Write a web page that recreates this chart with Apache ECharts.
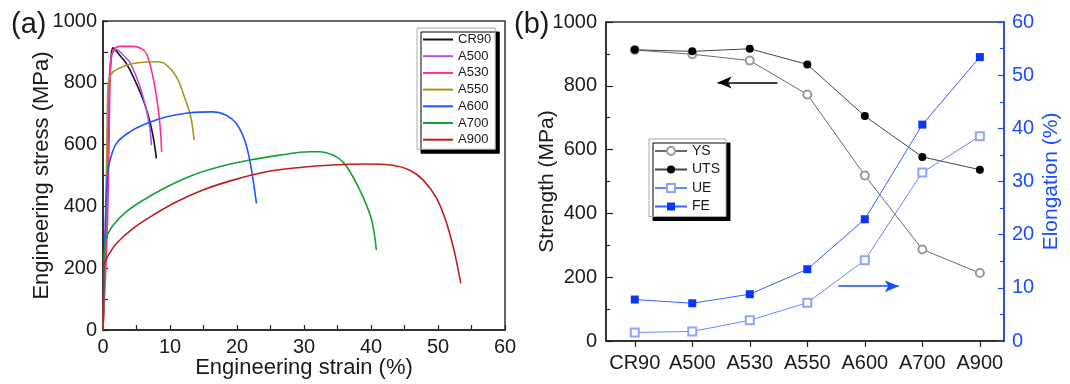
<!DOCTYPE html>
<html>
<head>
<meta charset="utf-8">
<script src="https://cdn.jsdelivr.net/npm/echarts@6/dist/echarts.min.js"></script>
<style>
  html, body { margin: 0; padding: 0; background: #fff; }
  #chart { width: 1070px; height: 384px; }
</style>
</head>
<body>
<div id="chart"></div>
<script>
// (a) engineering stress-strain curves: [strain %, stress MPa]
const cr90 = [[0, 0], [0.5, 380], [0.9, 760], [1.2, 880], [1.5, 913], [2.5, 889], [3.5, 862], [5.0, 797], [6.2, 733], [7.07, 668], [7.62, 609], [7.97, 555]]
const a500 = [[0, 0], [0.5, 400], [0.9, 800], [1.3, 890], [2.0, 908], [3.0, 890], [3.98, 867], [5.37, 797], [6.37, 722], [6.97, 657], [7.22, 598]]
const a530 = [[0, 0], [0.6, 300], [0.9, 600], [1.05, 800], [1.3, 890], [1.8, 912], [2.5, 918], [4.5, 918], [5.7, 911], [6.5, 894], [7.46, 819], [8.2, 722], [8.57, 647], [8.76, 576]]
const a550 = [[0, 0], [0.4, 350], [0.6, 650], [0.75, 790], [1.0, 818], [1.49, 835], [2.99, 853], [4.98, 864], [7.97, 868], [9.21, 862], [10.95, 819], [12.3, 745], [13.1, 690], [13.6, 614]]
const a600 = [[0, 0], [0.3, 300], [0.5, 450], [0.7, 510], [1.0, 545], [2.0, 604], [4.0, 641], [6.5, 668], [9.5, 690], [12.9, 703], [16.4, 706], [18.4, 695], [19.9, 668], [21.15, 614], [21.9, 550], [22.4, 485], [22.9, 410]]
const a700 = [[0, 0], [0.15, 200], [0.3, 280], [0.6, 305], [1.5, 339], [3.5, 383], [6.0, 420], [9.5, 463], [13.4, 501], [17.4, 528], [21.9, 550], [26.4, 566], [30.8, 577], [32.3, 577], [34.3, 566], [35.8, 544], [37.3, 496], [38.8, 431], [40.1, 356], [40.8, 259]]
const a900 = [[0, 0], [0.1, 205], [0.4, 225], [0.75, 240], [2.0, 280], [4.5, 329], [7.5, 372], [11.0, 415], [14.9, 453], [19.4, 485], [24.4, 512], [29.4, 526], [34.3, 534], [39.3, 537], [43.3, 533], [45.8, 517], [47.8, 485], [49.8, 426], [51.3, 345], [52.5, 248], [53.4, 151]]

// (b) strength and elongation per condition
const categories = ['CR90', 'A500', 'A530', 'A550', 'A600', 'A700', 'A900']
const ys = [912, 899, 879, 773, 519, 287, 213]
const uts = [913, 908, 916, 867, 705, 577, 537]
const ue = [1.6, 1.8, 3.9, 7.2, 15.2, 31.7, 38.5]
const fe = [7.8, 7.1, 8.8, 13.5, 22.9, 40.7, 53.4]

// arrows (tail, head) in data coordinates
const strengthArrow = [[2.48, 810], [1.44, 810]]
const elongArrow = [[3.54, 10.3], [4.59, 10.3]]

const font = 'Liberation Sans, Arial, sans-serif'
const ink = '#1a1a1a'
const blue = '#1a4dff'
const catIdx = categories.map((c, i) => i)
const plain = (v) => String(v)

const myChart = echarts.init(document.getElementById('chart'), null, { renderer: 'canvas' })

const curve = (name, data, color) => ({
  name,
  type: 'line',
  xAxisIndex: 0,
  yAxisIndex: 0,
  data,
  symbol: 'none',
  smooth: 0.35,
  lineStyle: { color, width: 1.6 },
  itemStyle: { color },
  z: 3,
})

const option = {
  animation: false,
  backgroundColor: '#fff',
  textStyle: { fontFamily: font },
  grid: [
    { left: 103, top: 21, width: 402, height: 309, show: true, borderColor: '#333', borderWidth: 1.5 },
    { left: 606, top: 22, width: 398, height: 319, show: true, borderColor: '#333', borderWidth: 1.5 },
  ],
  legend: [
    {
      data: ['CR90', 'A500', 'A530', 'A550', 'A600', 'A700', 'A900'],
      orient: 'vertical',
      left: 417,
      top: 28,
      padding: [5, 4, 3, 6],
      icon: 'rect',
      itemWidth: 30,
      itemHeight: 2,
      itemGap: 3.7,
      itemTextGap: 4,
      backgroundColor: '#fff',
      borderColor: '#aaa',
      borderWidth: 1,
      shadowColor: '#000',
      shadowOffsetX: 4,
      shadowOffsetY: 4,
      shadowBlur: 0,
      textStyle: { fontSize: 13, lineHeight: 13, color: ink, fontFamily: font },
    },
    {
      data: ['YS', 'UTS', 'UE', 'FE'],
      orient: 'vertical',
      left: 649,
      top: 139,
      padding: [5, 6, 3, 5],
      itemWidth: 32,
      itemHeight: 10,
      itemGap: 4.5,
      itemTextGap: 5,
      backgroundColor: '#fff',
      borderColor: '#aaa',
      borderWidth: 1,
      shadowColor: '#000',
      shadowOffsetX: 4,
      shadowOffsetY: 4,
      shadowBlur: 0,
      textStyle: { fontSize: 14, lineHeight: 14, color: ink, fontFamily: font },
    },
  ],
  graphic: [
    { type: 'text', left: 11, top: 10, style: { text: '(a)', font: '29px Liberation Sans, Arial, sans-serif', fill: ink } },
    { type: 'text', left: 514, top: 10, style: { text: '(b)', font: '29px Liberation Sans, Arial, sans-serif', fill: ink } },
  ],
  xAxis: [
    {
      gridIndex: 0,
      type: 'value',
      min: 0,
      max: 60,
      interval: 10,
      name: 'Engineering strain (%)',
      nameLocation: 'middle',
      nameGap: 27,
      nameMoveOverlap: false,
      nameTextStyle: { fontSize: 22, color: ink, fontFamily: font },
      axisLine: { onZero: false, lineStyle: { color: '#222', width: 1.5 } },
      axisTick: { inside: true, length: 5, lineStyle: { color: '#222', width: 1.2 } },
      minorTick: { show: true, splitNumber: 2, length: 5, lineStyle: { color: '#222', width: 1.2 } },
      splitLine: { show: false },
      axisLabel: { fontSize: 20, color: ink, margin: 7, fontFamily: font, formatter: plain },
    },
    {
      gridIndex: 1,
      type: 'value',
      min: -0.5,
      max: 6.42,
      axisLine: { onZero: false, lineStyle: { color: '#222', width: 1.5 } },
      axisTick: { customValues: catIdx, length: 6, lineStyle: { color: '#222', width: 1.2 } },
      splitLine: { show: false },
      axisLabel: {
        customValues: catIdx,
        formatter: (v) => categories[Math.round(v)],
        fontSize: 20,
        color: ink,
        margin: 12,
        fontFamily: font,
      },
    },
  ],
  yAxis: [
    {
      gridIndex: 0,
      type: 'value',
      min: 0,
      max: 1000,
      interval: 200,
      name: 'Engineering stress (MPa)',
      nameLocation: 'middle',
      nameGap: 50,
      nameMoveOverlap: false,
      nameTextStyle: { fontSize: 22, color: ink, fontFamily: font },
      axisLine: { show: true, onZero: false, lineStyle: { color: '#222', width: 1.5 } },
      axisTick: { inside: true, length: 5, lineStyle: { color: '#222', width: 1.2 } },
      minorTick: { show: true, splitNumber: 2, length: 5, lineStyle: { color: '#222', width: 1.2 } },
      splitLine: { show: false },
      axisLabel: { fontSize: 20, color: ink, margin: 6, fontFamily: font, formatter: plain },
    },
    {
      gridIndex: 1,
      type: 'value',
      min: 0,
      max: 1000,
      interval: 200,
      name: 'Strength (MPa)',
      nameLocation: 'middle',
      nameGap: 48,
      nameMoveOverlap: false,
      nameTextStyle: { fontSize: 21, color: ink, fontFamily: font },
      axisLine: { show: true, onZero: false, lineStyle: { color: '#222', width: 1.5 } },
      axisTick: { inside: true, length: 7, lineStyle: { color: '#222', width: 1.2 } },
      minorTick: { show: true, splitNumber: 2, length: 4, lineStyle: { color: '#222', width: 1.2 } },
      splitLine: { show: false },
      axisLabel: { fontSize: 20, color: ink, margin: 9, fontFamily: font, formatter: plain },
    },
    {
      gridIndex: 1,
      type: 'value',
      position: 'right',
      min: 0,
      max: 60,
      interval: 10,
      name: 'Elongation (%)',
      nameLocation: 'middle',
      nameRotate: 90,
      nameGap: 37,
      nameMoveOverlap: false,
      nameTextStyle: { fontSize: 21, color: blue, fontFamily: font },
      axisLine: { show: true, onZero: false, lineStyle: { color: blue, width: 1.5 } },
      axisTick: { inside: true, length: 6, lineStyle: { color: blue, width: 1.2 } },
      minorTick: { show: true, splitNumber: 2, length: 4, lineStyle: { color: blue, width: 1.2 } },
      splitLine: { show: false },
      axisLabel: { fontSize: 20, color: blue, margin: 8, fontFamily: font, formatter: plain },
    },
  ],
  series: [
    curve('CR90', cr90, '#111111'),
    curve('A500', a500, '#b050f0'),
    curve('A530', a530, '#ff2d8f'),
    curve('A550', a550, '#a8961c'),
    curve('A600', a600, '#1f55ff'),
    curve('A700', a700, '#14a035'),
    curve('A900', a900, '#c01c1c'),
    {
      name: 'YS',
      type: 'line',
      xAxisIndex: 1,
      yAxisIndex: 1,
      data: ys.map((v, i) => [i, v]),
      symbol: 'emptyCircle',
      symbolSize: 8,
      lineStyle: { color: '#6a6a6a', width: 1 },
      itemStyle: { color: '#9a9a9a', borderWidth: 1 },
    },
    {
      name: 'UTS',
      type: 'line',
      xAxisIndex: 1,
      yAxisIndex: 1,
      data: uts.map((v, i) => [i, v]),
      symbol: 'circle',
      symbolSize: 8,
      lineStyle: { color: '#444', width: 1 },
      itemStyle: { color: '#000' },
      markLine: {
        silent: true,
        symbol: ['none', 'arrow'],
        symbolSize: [9, 14],
        label: { show: false },
        lineStyle: { color: '#000', width: 1.5, type: 'solid' },
        data: [[{ coord: strengthArrow[0] }, { coord: strengthArrow[1] }]],
      },
    },
    {
      name: 'UE',
      type: 'line',
      xAxisIndex: 1,
      yAxisIndex: 2,
      data: ue.map((v, i) => [i, v]),
      symbol: 'emptyRect',
      symbolSize: 8,
      lineStyle: { color: '#6b86ff', width: 1 },
      itemStyle: { color: '#8fa3ff', borderWidth: 1 },
    },
    {
      name: 'FE',
      type: 'line',
      xAxisIndex: 1,
      yAxisIndex: 2,
      data: fe.map((v, i) => [i, v]),
      symbol: 'rect',
      symbolSize: 8,
      lineStyle: { color: '#3d5dff', width: 1 },
      itemStyle: { color: '#0a35ff' },
      markLine: {
        silent: true,
        symbol: ['none', 'arrow'],
        symbolSize: [9, 14],
        label: { show: false },
        lineStyle: { color: blue, width: 1.5, type: 'solid' },
        data: [[{ coord: elongArrow[0] }, { coord: elongArrow[1] }]],
      },
    },
  ],
}

myChart.setOption(option)
</script>
</body>
</html>
